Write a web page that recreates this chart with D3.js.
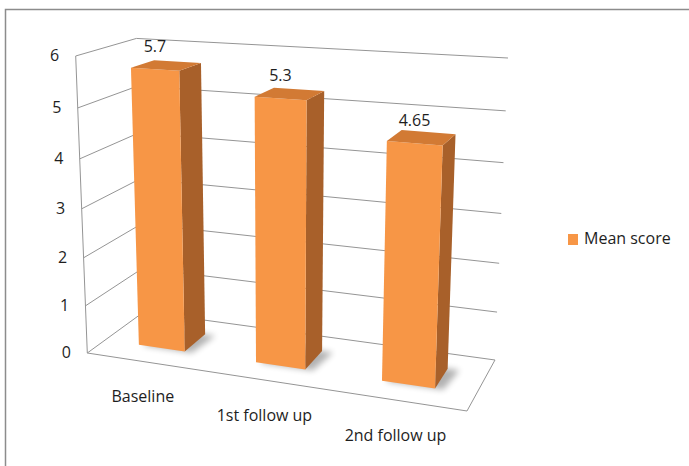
<!DOCTYPE html>
<html>
<head>
<meta charset="utf-8">
<script src="https://cdn.jsdelivr.net/npm/d3@7/dist/d3.min.js"></script>
<style>
  html, body { margin: 0; padding: 0; background: #fff; }
  svg { display: block; }
  text { font-family: "Open Sans", "Liberation Sans", sans-serif; fill: #1e1e1e; }
</style>
</head>
<body>
<svg id="chart" width="689" height="466"></svg>
<script>
// ---- data ----
const categories = ["Baseline", "1st follow up", "2nd follow up"];
const meanScore = [5.7, 5.3, 4.65];
const valueLabels = ["5.7", "5.3", "4.65"];
const yTicks = [0, 1, 2, 3, 4, 5, 6];
const seriesName = "Mean score";

// ---- layout / style ----
const W = 689, H = 466;
const FS = 16;
const colors = { front: "#F79646", top: "#D27A34", side: "#A8602A", grid: "#959595", border: "#8c8c8c" };

// Perspective projection of the unit box (x: categories, y: value, z: depth 0=front,1=back)
const P = [
  [329.73, -15.87, 69.59, 87.3],
  [14.02, -300.16, -13.11, 353],
  [-0.107, -0.0564, 0.0901, 1]
];
function proj(x, y, z) {
  const X = P[0][0]*x + P[0][1]*y + P[0][2]*z + P[0][3];
  const Y = P[1][0]*x + P[1][1]*y + P[1][2]*z + P[1][3];
  const w = P[2][0]*x + P[2][1]*y + P[2][2]*z + P[2][3];
  return [X / w, Y / w];
}

const yScale = d3.scaleLinear().domain([0, 6]).range([0, 1]);
const xScale = d3.scaleBand().domain(categories).range([0, 1]).paddingInner(0.6).paddingOuter(0.3);
const zScale = d3.scaleLinear().domain([0, 1]).range([0.3, 0.7]); // bar depth span

const svg = d3.select("#chart");
const line = d3.line();

// outer border
svg.append("rect").attr("x", 5.5).attr("y", 9.5).attr("width", W + 20).attr("height", H + 20)
  .attr("fill", "none").attr("stroke", colors.border).attr("stroke-width", 1.5);

const defs = svg.append("defs");
defs.append("filter").attr("id", "blur").attr("x", "-50%").attr("y", "-50%").attr("width", "200%").attr("height", "200%")
  .append("feGaussianBlur").attr("stdDeviation", 3);

const gGrid = svg.append("g").attr("fill", "none").attr("stroke", colors.grid).attr("stroke-width", 1);

// gridlines: left wall + back wall
yTicks.forEach(t => {
  const y = yScale(t);
  gGrid.append("path").attr("d", line([proj(0, y, 0), proj(0, y, 1), proj(1, y, 1)]));
});
// front-left vertical edge (axis)
gGrid.append("path").attr("d", line([proj(0, 0, 0), proj(0, 1, 0)]));
// floor front and right edges
gGrid.append("path").attr("d", line([proj(0, 0, 0), proj(1, 0, 0), proj(1, 0, 1)]));

// y tick labels
svg.append("g").selectAll("text").data(yTicks).join("text")
  .attr("x", d => proj(0, yScale(d), 0)[0] - 21)
  .attr("y", d => proj(0, yScale(d), 0)[1] + 1)
  .attr("text-anchor", "middle").attr("dominant-baseline", "middle")
  .attr("font-size", FS).text(d => d);

// category labels
svg.append("g").selectAll("text").data(categories).join("text")
  .attr("x", d => proj(xScale(d) + xScale.bandwidth() / 2, 0, 0)[0] - 2)
  .attr("y", d => proj(xScale(d) + xScale.bandwidth() / 2, 0, 0)[1] + 36)
  .attr("text-anchor", "middle").attr("dominant-baseline", "middle")
  .attr("font-size", FS).text(d => d);

// bars
const gBars = svg.append("g");
categories.forEach((c, i) => {
  const x0 = xScale(c), x1 = x0 + xScale.bandwidth();
  const z0 = zScale(0), z1 = zScale(1);
  const y0 = 0, y1 = yScale(meanScore[i]);
  // shadow
  gBars.append("path")
    .attr("d", line([proj(x0 + 0.01, 0, z0), proj(x1 + 0.02, 0, z0), proj(x1 + 0.03, 0, z1), proj(x0 + 0.02, 0, z1)]) + "Z")
    .attr("fill", "#000").attr("opacity", 0.3).attr("filter", "url(#blur)");
  // right side
  gBars.append("path")
    .attr("d", line([proj(x1, y0, z0), proj(x1, y0, z1), proj(x1, y1, z1), proj(x1, y1, z0)]) + "Z")
    .attr("fill", colors.side);
  // front
  gBars.append("path")
    .attr("d", line([proj(x0, y0, z0), proj(x1, y0, z0), proj(x1, y1, z0), proj(x0, y1, z0)]) + "Z")
    .attr("fill", colors.front);
  // top
  gBars.append("path")
    .attr("d", line([proj(x0, y1, z0), proj(x1, y1, z0), proj(x1, y1, z1), proj(x0, y1, z1)]) + "Z")
    .attr("fill", colors.top);
  // value label
  const tp = proj((x0 + x1) / 2, y1, z0);
  gBars.append("text").attr("x", tp[0]).attr("y", tp[1] - 22)
    .attr("text-anchor", "middle").attr("dominant-baseline", "middle")
    .attr("font-size", FS).text(valueLabels[i]);
});

// legend
const lg = svg.append("g").attr("transform", "translate(568,234)");
lg.append("rect").attr("width", 10).attr("height", 11).attr("fill", colors.front);
lg.append("text").attr("x", 16).attr("y", 6).attr("dominant-baseline", "middle")
  .attr("font-size", FS).text(seriesName);
</script>
</body>
</html>
